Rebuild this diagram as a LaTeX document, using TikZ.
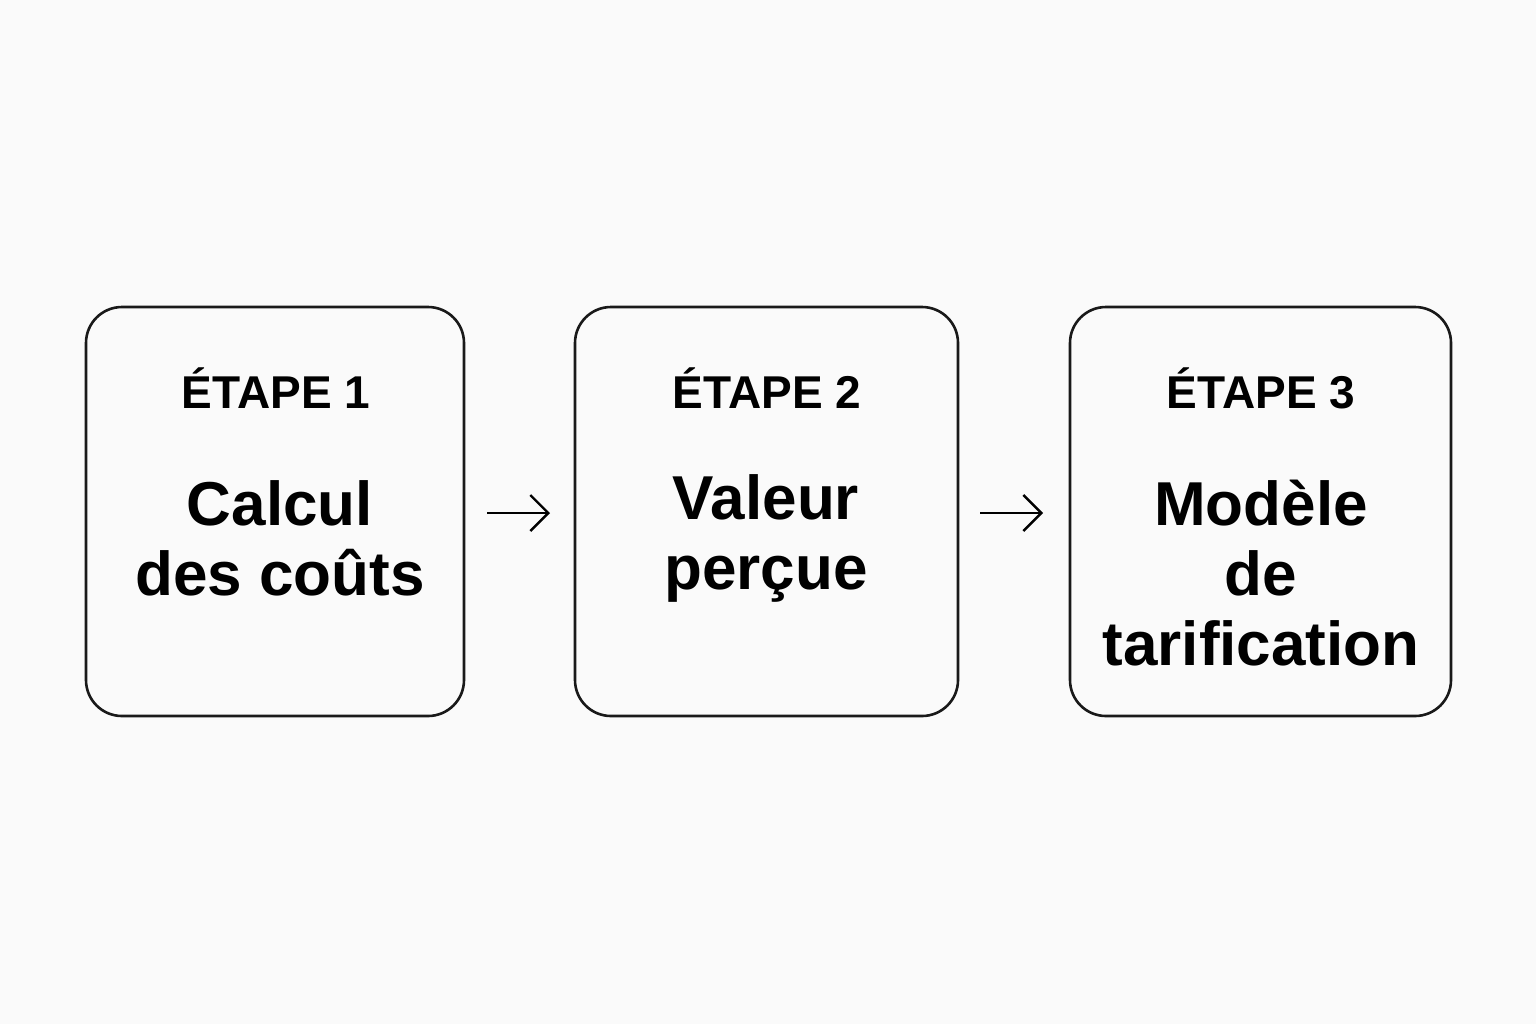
\documentclass[tikz,border=0pt]{standalone}
\usepackage{fontspec}
\setmainfont{Liberation Sans}
\usetikzlibrary{arrows.meta}
\begin{document}
\begin{tikzpicture}[x=0.5pt,y=-0.5pt,
  stepbox/.style={draw=black!90,line width=1.3pt,rounded corners=18pt},
  lbl/.style={font=\fontsize{23}{28}\selectfont\bfseries,align=center},
  ttl/.style={font=\fontsize{31}{35}\selectfont\bfseries,align=center},
  conn/.style={line width=1.2pt,-{Straight Barb[length=9pt,width=18pt,line width=1.2pt]}}]
\fill[white!98!black] (0,0) rectangle (1536,1024);
\useasboundingbox (0,0) rectangle (1536,1024);
\draw[stepbox] (86,307) rectangle (464,716);
\draw[stepbox] (575,307) rectangle (958,716);
\draw[stepbox] (1070,307) rectangle (1451,716);
\node[lbl] (l1) at (276,388) {ÉTAPE 1};
\node[lbl] (l2) at (767,388) {ÉTAPE 2};
\node[lbl] (l3) at (1261,388) {ÉTAPE 3};
\node[ttl] (t1) at (280,538) {Calcul\\des coûts};
\node[ttl] (t2) at (766,538) {Valeur\\perçue};
\node[ttl] (t3) at (1261,573) {Modèle\\de\\tarification};
\coordinate (a1) at (487,513); \coordinate (b1) at (550,513);
\coordinate (a2) at (980,513); \coordinate (b2) at (1043,513);
\draw[conn] (a1) -- (b1);
\draw[conn] (a2) -- (b2);
\end{tikzpicture}
\end{document}
